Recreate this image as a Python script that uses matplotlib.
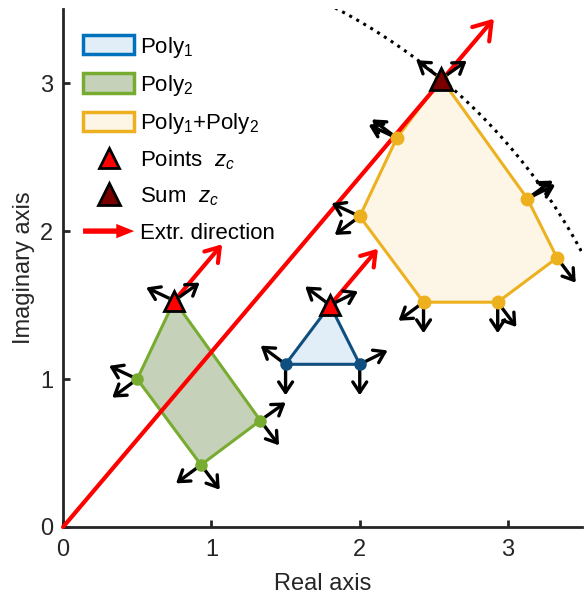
import numpy as np
import matplotlib
matplotlib.use("Agg")
import matplotlib.pyplot as plt
import matplotlib.patches as mpatches
from matplotlib.lines import Line2D
from matplotlib.legend_handler import HandlerPatch

plt.rcParams['font.family'] = ['Liberation Sans', 'DejaVu Sans']
plt.rcParams['mathtext.fontset'] = 'custom'
plt.rcParams['mathtext.rm'] = 'Liberation Sans'
plt.rcParams['mathtext.it'] = 'Liberation Sans:italic'

# polygon vertices (real, imag)
poly1_x = [1.5, 2.0, 1.8]
poly1_y = [1.1, 1.1, 1.5]
poly2_x = [0.5, 0.75, 1.33, 0.93]
poly2_y = [1.0, 1.53, 0.72, 0.42]
sum_x = [2.0, 2.25, 2.55, 3.13, 3.33, 2.93, 2.43]
sum_y = [2.1, 2.63, 3.03, 2.22, 1.82, 1.52, 1.52]

# extreme points z_c and their sum
zc_x = [0.75, 1.8]
zc_y = [1.53, 1.5]
zsum_x = [2.55]
zsum_y = [3.03]

# extremal direction (angle in degrees) and arrow lengths
dir_angle = 49.8
big_len = 4.5
small_len = 0.5
normal_len = 0.21

c1_edge, c1_face, c1_leg = '#0F4F7F', '#E1EEF8', '#0072BD'
c2_edge, c2_face = '#77AC30', '#C6D1B9'
c3_edge, c3_face = '#EDB120', '#FDF6E7'


class ArrowKey:
    pass


class HandlerArrow(HandlerPatch):
    def create_artists(self, legend, orig_handle, xdescent, ydescent,
                       width, height, fontsize, trans):
        p = mpatches.FancyArrow(-xdescent, -ydescent + 0.5 * height, width, 0,
                                width=0.28 * height, head_width=0.75 * height,
                                head_length=0.35 * width, length_includes_head=True,
                                color='red', lw=0)
        p.set_transform(trans)
        return [p]


def arrow(ax, p0, p1, color='k', lw=2.4, ms=10, hl=0.75, hw=0.5, z=5):
    ax.annotate('', xy=p1, xytext=p0,
                arrowprops=dict(arrowstyle=f'->,head_length={hl},head_width={hw}',
                                lw=lw, color=color, shrinkA=0, shrinkB=0,
                                mutation_scale=ms), zorder=z)


def normal_arrows(ax, xs, ys):
    pts = np.column_stack([xs, ys])
    cen = pts.mean(axis=0)
    n = len(pts)
    for i in range(n):
        a, b = pts[i], pts[(i + 1) % n]
        e = b - a
        nv = np.array([e[1], -e[0]]) / np.hypot(*e)
        if np.dot(nv, (a + b) / 2 - cen) < 0:
            nv = -nv
        for p in (a, b):
            arrow(ax, p, p + normal_len * nv)


fig = plt.figure(figsize=(5.84, 6.04), dpi=100)
ax = fig.add_axes([0.108, 0.1275, 0.889, 0.857])

ax.fill(poly1_x, poly1_y, facecolor=c1_face, edgecolor=c1_edge, lw=2.2, zorder=2)
ax.fill(poly2_x, poly2_y, facecolor=c2_face, edgecolor=c2_edge, lw=2.2, zorder=2)
ax.fill(sum_x, sum_y, facecolor=c3_face, edgecolor=c3_edge, lw=2.2, zorder=2)

normal_arrows(ax, poly1_x, poly1_y)
normal_arrows(ax, poly2_x, poly2_y)
normal_arrows(ax, sum_x, sum_y)

ax.plot(poly1_x, poly1_y, 'o', ms=8, mfc=c1_edge, mec=c1_edge, zorder=6)
ax.plot(poly2_x, poly2_y, 'o', ms=8, mfc=c2_edge, mec=c2_edge, zorder=6)
ax.plot(sum_x, sum_y, 'o', ms=9, mfc=c3_edge, mec=c3_edge, zorder=6)

# dotted support circle through the summed point
r = np.hypot(zsum_x[0], zsum_y[0])
th = np.linspace(0, np.pi / 2, 300)
ax.plot(r * np.cos(th), r * np.sin(th), ':', color='k', lw=2.2, zorder=3)

d = np.array([np.cos(np.radians(dir_angle)), np.sin(np.radians(dir_angle))])
arrow(ax, (0, 0), tuple(big_len * d), color='red', lw=3, ms=20, hl=0.6, hw=0.4, z=4)
for x, y in zip(zc_x, zc_y):
    arrow(ax, (x, y), (x + small_len * d[0], y + small_len * d[1]),
          color='red', lw=3, ms=16, hl=0.6, hw=0.4, z=4)

ax.plot(zc_x, zc_y, '^', ms=14, mfc='red', mec='k', mew=2, zorder=8)
ax.plot(zsum_x, zsum_y, '^', ms=16, mfc='#7A0000', mec='k', mew=2, zorder=8)

ax.set_xlim(0, 3.5)
ax.set_ylim(0, 3.5)
ax.set_xticks([0, 1, 2, 3])
ax.set_yticks([0, 1, 2, 3])
for s in ('top', 'right'):
    ax.spines[s].set_visible(False)
for s in ('left', 'bottom'):
    ax.spines[s].set_linewidth(2)
    ax.spines[s].set_color('#262626')
ax.tick_params(direction='in', length=5, width=2, color='#262626',
               labelsize=17, labelcolor='#262626', pad=7)
ax.tick_params(axis='x', pad=9)
ax.set_xlabel('Real axis', fontsize=17, color='#262626', labelpad=8)
ax.set_ylabel('Imaginary axis', fontsize=17, color='#262626', labelpad=4)

handles = [
    mpatches.Patch(facecolor=c1_face, edgecolor=c1_leg, lw=2.5),
    mpatches.Patch(facecolor=c2_face, edgecolor=c2_edge, lw=2.5),
    mpatches.Patch(facecolor=c3_face, edgecolor=c3_edge, lw=2.5),
    Line2D([], [], ls='none', marker='^', ms=14, mfc='red', mec='k', mew=2),
    Line2D([], [], ls='none', marker='^', ms=16, mfc='#7A0000', mec='k', mew=2),
    ArrowKey(),
]
labels = ['Poly$_1$', 'Poly$_2$', 'Poly$_1$+Poly$_2$', 'Points  $z_c$',
          'Sum  $z_c$', 'Extr. direction']
ax.legend(handles, labels, loc='upper left', frameon=False, fontsize=16,
          handlelength=2.3, handleheight=0.95, handletextpad=0.28,
          labelspacing=0.59, borderaxespad=0.5, bbox_to_anchor=(0, 0.99),
          handler_map={ArrowKey: HandlerArrow()})

fig.savefig('out.png', dpi=100)
